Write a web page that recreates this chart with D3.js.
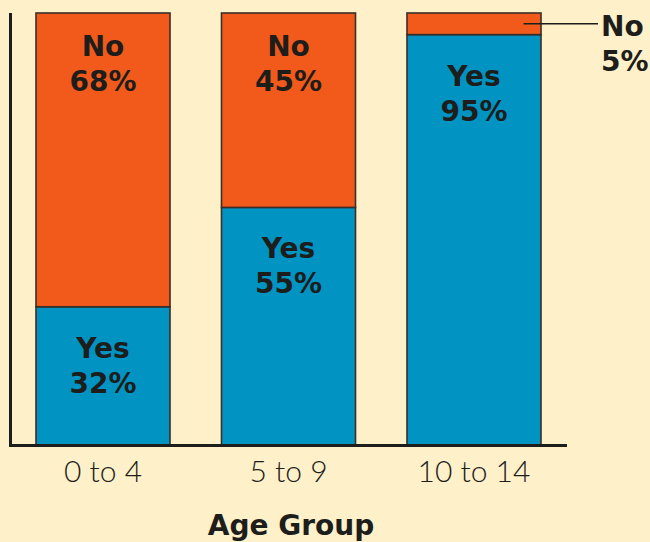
<!DOCTYPE html>
<html>
<head>
<meta charset="utf-8">
<script src="https://cdn.jsdelivr.net/npm/d3@7"></script>
<style>
  html, body { margin: 0; padding: 0; background: #FEF0C9; }
  svg { display: block; }
</style>
</head>
<body>
<svg id="chart" width="650" height="542"></svg>
<script>
// Share of children answering Yes / No, by age group (percent)
const ageGroups = ["0 to 4", "5 to 9", "10 to 14"];
const yesValues = [32, 55, 95];
const noValues = [68, 45, 5];
const seriesNames = ["Yes", "No"];
const axisTitle = "Age Group";

const svg = d3.select("#chart");
const plotTop = 13, plotBottom = 445, plotLeft = 10, plotRight = 567;

const colors = { Yes: "#0193C2", No: "#F15A1B" };
const ink = "#1d1d1b";
const boldFont = "'DejaVu Sans', sans-serif";
const lightFont = "Lato, 'Open Sans', sans-serif";

const x = d3.scaleBand()
  .domain(ageGroups)
  .range([36, 541])
  .paddingInner(0.2776)
  .paddingOuter(0);

const y = d3.scaleLinear().domain([0, 100]).range([plotBottom, plotTop]);

const rows = ageGroups.map((g, i) => ({ group: g, Yes: yesValues[i], No: noValues[i] }));
const stacked = d3.stack().keys(seriesNames)(rows);

// stacked segments
const layers = svg.append("g")
  .selectAll("g")
  .data(stacked)
  .join("g")
  .attr("fill", d => colors[d.key]);

layers.selectAll("rect")
  .data(d => d.map(s => ({ key: d.key, s })))
  .join("rect")
  .attr("x", d => x(d.s.data.group))
  .attr("y", d => y(d.s[1]))
  .attr("width", x.bandwidth())
  .attr("height", d => y(d.s[0]) - y(d.s[1]))
  .attr("stroke", "#3a2f28")
  .attr("stroke-width", 1.6);

// in-bar labels (the thin segment gets a callout instead)
const inside = [];
stacked.forEach(layer => {
  layer.forEach(s => {
    const v = s.data[layer.key];
    if (v >= 10) inside.push({ key: layer.key, v, group: s.data.group, topY: y(s[1]) });
  });
});

const lab = svg.append("g")
  .attr("font-family", boldFont)
  .attr("font-weight", "bold")
  .attr("font-size", 28)
  .attr("fill", ink)
  .attr("text-anchor", "middle");

inside.forEach(d => {
  const cx = x(d.group) + x.bandwidth() / 2;
  const first = d.key === "No" ? 43 : 51;
  lab.append("text")
    .attr("x", cx).attr("y", d.topY + first)
    .text(d.key);
  lab.append("text")
    .attr("x", cx).attr("y", d.topY + first + 35)
    .text(d.v + "%");
});

// callout for the small segment
stacked.forEach(layer => {
  layer.forEach(s => {
    const v = s.data[layer.key];
    if (v < 10) {
      const cy = (y(s[0]) + y(s[1])) / 2;
      const x0 = x(s.data.group) + x.bandwidth() * 0.87;
      svg.append("line")
        .attr("x1", x0).attr("x2", 598)
        .attr("y1", cy).attr("y2", cy)
        .attr("stroke", ink).attr("stroke-width", 1.4);
      const t = svg.append("g")
        .attr("font-family", boldFont).attr("font-weight", "bold")
        .attr("font-size", 28).attr("fill", ink);
      t.append("text").attr("x", 601).attr("y", cy + 12).text(layer.key);
      t.append("text").attr("x", 601).attr("y", cy + 47).text(v + "%");
    }
  });
});

// axes
svg.append("line")
  .attr("x1", plotLeft + 0.5).attr("x2", plotLeft + 0.5)
  .attr("y1", plotTop).attr("y2", plotBottom)
  .attr("stroke", ink).attr("stroke-width", 3);

const xAxis = svg.append("g")
  .attr("transform", `translate(0,${plotBottom})`)
  .call(d3.axisBottom(x).tickSize(0).tickPadding(0));
xAxis.select(".domain").remove();
xAxis.selectAll("text")
  .attr("dy", null)
  .attr("y", 37)
  .attr("font-family", lightFont)
  .attr("font-weight", 300)
  .attr("font-size", 30)
  .attr("fill", ink);

svg.append("line")
  .attr("x1", plotLeft - 1).attr("x2", plotRight)
  .attr("y1", plotBottom + 0.5).attr("y2", plotBottom + 0.5)
  .attr("stroke", ink).attr("stroke-width", 3);

svg.append("text")
  .attr("x", 291).attr("y", 535)
  .attr("text-anchor", "middle")
  .attr("font-family", boldFont)
  .attr("font-weight", "bold")
  .attr("font-size", 28)
  .attr("fill", ink)
  .text(axisTitle);
</script>
</body>
</html>
